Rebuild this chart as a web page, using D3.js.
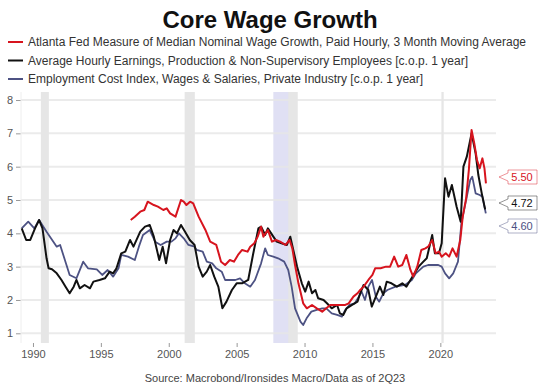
<!DOCTYPE html>
<html>
<head>
<meta charset="utf-8">
<script src="https://cdn.jsdelivr.net/npm/d3@7"></script>
<style>
  body { margin: 0; background: #fff; }
  svg text { font-family: "Liberation Sans", Arial, sans-serif; }
</style>
</head>
<body>
<svg id="chart" width="543" height="389"></svg>
<script>
// series as [decimal year, % y/y]
const atlantaFed = [[1997.2,4.4],[1997.5,4.5],[1997.9,4.65],[1998.2,4.7],[1998.45,4.95],[1998.9,4.85],[1999.2,4.8],[1999.6,4.7],[1999.85,4.75],[2000.1,4.6],[2000.5,4.5],[2000.9,5.0],[2001.1,4.95],[2001.3,4.85],[2001.57,4.95],[2001.8,4.9],[2002.2,4.5],[2002.7,4.1],[2003.05,3.75],[2003.5,3.65],[2003.85,3.15],[2004.15,3.05],[2004.5,3.2],[2004.8,3.15],[2005.1,3.35],[2005.4,3.5],[2005.8,3.45],[2006.0,3.6],[2006.3,3.7],[2006.55,3.9],[2006.8,4.2],[2006.97,3.9],[2007.3,4.1],[2007.6,3.75],[2007.9,3.8],[2008.2,3.75],[2008.6,3.65],[2008.9,3.8],[2009.1,3.55],[2009.3,3.05],[2009.55,2.5],[2009.9,1.9],[2010.17,1.75],[2010.55,1.85],[2010.9,1.75],[2011.3,1.65],[2011.6,1.75],[2011.9,1.85],[2012.2,1.85],[2012.6,1.85],[2013.0,1.85],[2013.25,1.9],[2013.6,2.1],[2013.9,2.2],[2014.1,2.3],[2014.35,2.4],[2014.7,2.6],[2015.0,2.75],[2015.2,2.95],[2015.6,2.95],[2016.0,3.0],[2016.3,3.0],[2016.6,3.3],[2016.9,3.0],[2017.2,3.05],[2017.5,3.35],[2017.8,2.9],[2018.0,2.7],[2018.3,3.0],[2018.6,3.5],[2018.9,3.55],[2019.1,3.6],[2019.4,3.8],[2019.65,3.4],[2019.9,3.45],[2020.1,3.3],[2020.4,3.4],[2020.65,3.3],[2020.9,3.55],[2021.2,3.3],[2021.47,3.8],[2021.65,4.5],[2021.9,5.05],[2022.1,5.9],[2022.3,7.1],[2022.5,6.7],[2022.7,6.2],[2022.9,5.95],[2023.1,6.25],[2023.25,5.95],[2023.36,5.5]];

const ahe = [[1989.17,4.15],[1989.5,3.8],[1989.8,3.8],[1990.15,4.15],[1990.45,4.4],[1990.7,4.15],[1991.0,3.25],[1991.15,2.95],[1991.4,2.92],[1991.75,2.8],[1992.1,2.6],[1992.4,2.4],[1992.7,2.2],[1993.0,2.4],[1993.2,2.6],[1993.45,2.35],[1993.8,2.45],[1994.2,2.35],[1994.45,2.55],[1994.9,2.6],[1995.3,2.65],[1995.65,2.85],[1995.9,2.8],[1996.15,2.95],[1996.5,3.4],[1996.8,3.45],[1997.15,3.8],[1997.4,3.6],[1997.9,4.05],[1998.25,4.2],[1998.6,4.25],[1998.9,3.9],[1999.1,3.55],[1999.3,3.2],[1999.55,3.6],[1999.8,3.1],[2000.1,3.8],[2000.35,4.1],[2000.6,4.0],[2000.9,4.25],[2001.2,4.05],[2001.55,3.8],[2001.9,3.65],[2002.2,3.0],[2002.5,2.7],[2002.8,2.85],[2003.05,3.05],[2003.35,2.7],[2003.65,2.4],[2003.95,1.75],[2004.25,1.95],[2004.65,2.3],[2005.0,2.5],[2005.4,2.5],[2005.85,2.6],[2006.2,3.35],[2006.6,4.15],[2006.8,4.2],[2007.1,3.95],[2007.3,4.15],[2007.7,3.9],[2007.95,3.75],[2008.3,3.7],[2008.7,3.65],[2008.95,3.9],[2009.2,3.45],[2009.45,3.0],[2009.8,2.5],[2010.05,2.25],[2010.3,2.55],[2010.55,2.2],[2010.8,2.3],[2011.0,2.05],[2011.4,2.0],[2011.65,1.9],[2012.0,1.75],[2012.4,1.85],[2012.6,1.6],[2012.85,1.55],[2013.1,1.75],[2013.5,1.85],[2013.9,1.95],[2014.1,2.2],[2014.35,2.45],[2014.7,2.3],[2014.95,1.8],[2015.2,2.05],[2015.55,2.4],[2015.8,2.15],[2016.05,2.55],[2016.4,2.5],[2016.8,2.4],[2017.2,2.5],[2017.5,2.4],[2017.8,2.6],[2018.1,2.8],[2018.4,3.0],[2018.75,3.15],[2019.0,3.25],[2019.4,3.95],[2019.6,3.4],[2019.9,3.4],[2020.1,3.7],[2020.35,5.65],[2020.6,5.1],[2020.85,5.45],[2021.2,4.8],[2021.5,4.35],[2021.7,6.0],[2021.95,6.3],[2022.3,7.0],[2022.6,6.4],[2022.8,5.75],[2023.05,5.2],[2023.3,4.72]];

const eci = [[1989.17,4.15],[1989.65,4.35],[1990.1,4.15],[1990.45,4.4],[1991.0,4.05],[1991.5,3.75],[1991.75,3.6],[1992.0,3.65],[1992.35,3.2],[1992.7,2.75],[1993.2,2.65],[1993.7,3.15],[1994.05,2.95],[1994.7,2.92],[1995.1,2.75],[1995.5,2.9],[1995.9,2.7],[1996.3,2.95],[1996.5,3.35],[1997.0,3.3],[1997.5,3.2],[1997.8,3.6],[1998.1,3.95],[1998.6,4.1],[1999.0,3.75],[1999.4,3.65],[1999.85,3.75],[2000.2,3.75],[2000.5,3.85],[2000.75,4.0],[2001.1,3.85],[2001.45,3.65],[2001.9,3.6],[2002.05,3.5],[2002.5,3.45],[2002.8,3.15],[2003.2,3.1],[2003.5,2.95],[2003.9,2.85],[2004.15,2.6],[2004.5,2.6],[2004.9,2.6],[2005.25,2.65],[2005.6,2.5],[2006.0,2.4],[2006.35,2.6],[2006.8,3.1],[2007.1,3.55],[2007.3,3.35],[2007.7,3.3],[2008.05,3.25],[2008.5,3.15],[2008.8,2.9],[2009.05,2.4],[2009.3,1.75],[2009.7,1.35],[2009.9,1.25],[2010.15,1.45],[2010.5,1.65],[2010.9,1.7],[2011.3,1.75],[2011.6,1.75],[2012.0,1.6],[2012.4,1.55],[2012.75,1.5],[2013.0,1.7],[2013.3,1.85],[2013.7,1.9],[2014.0,2.1],[2014.2,2.25],[2014.45,2.0],[2014.7,2.4],[2014.97,2.6],[2015.25,2.1],[2015.5,1.95],[2015.8,2.2],[2016.1,2.3],[2016.7,2.4],[2017.4,2.45],[2017.9,2.6],[2018.2,2.8],[2018.75,3.0],[2019.1,3.05],[2019.45,3.05],[2019.85,3.05],[2020.1,3.0],[2020.35,2.8],[2020.65,2.65],[2020.95,2.8],[2021.3,3.15],[2021.55,4.3],[2021.85,4.9],[2022.2,5.6],[2022.35,5.7],[2022.6,5.2],[2022.9,5.15],[2023.1,5.1],[2023.35,4.6]];

const recessions = [[1990.58,1991.17],[2001.17,2001.92],[2007.92,2009.5],[2020.08,2020.25]];
const gfcBand = [2007.7, 2008.8];

const seriesNames = [
  "Atlanta Fed Measure of Median Nominal Wage Growth, Paid Hourly, 3 Month Moving Average",
  "Average Hourly Earnings, Production & Non-Supervisory Employees [c.o.p. 1 year]",
  "Employment Cost Index, Wages & Salaries, Private Industry [c.o.p. 1 year]"
];
const seriesColors = ["#d7141e", "#111111", "#4d5283"];
const yTicks = [1, 2, 3, 4, 5, 6, 7, 8];
const xTicks = [1990, 1995, 2000, 2005, 2010, 2015, 2020];

const svg = d3.select("#chart");
const plotTop = 92, plotBottom = 343, plotLeft = 21, plotRight = 496;

const x = d3.scaleLinear().domain([1989, 2024.1]).range([19.4, 496]);
const y = d3.scaleLinear().domain([0.7, 8.25]).range([343.3, 91.7]);

// title
svg.append("text").attr("x", 270).attr("y", 28).attr("text-anchor", "middle")
  .style("font-size", "24px").style("font-weight", "bold").attr("fill", "#111")
  .text("Core Wage Growth");

// legend
const legend = svg.selectAll("g.legend").data(seriesNames).join("g")
  .attr("class", "legend")
  .attr("transform", (d, i) => `translate(0,${42 + i * 18.5})`);
legend.append("line").attr("x1", 8).attr("x2", 23).attr("y1", 0).attr("y2", 0)
  .attr("stroke", (d, i) => seriesColors[i]).attr("stroke-width", 2);
legend.append("text").attr("x", 28).attr("y", 4).style("font-size", "12px")
  .attr("fill", "#333").text(d => d);

// recession bands
svg.selectAll("rect.rec").data(recessions).join("rect")
  .attr("class", "rec")
  .attr("x", d => x(d[0])).attr("width", d => Math.max(1.5, x(d[1]) - x(d[0])))
  .attr("y", plotTop).attr("height", plotBottom - plotTop).attr("fill", "#e6e6e6");
svg.append("rect").attr("x", x(gfcBand[0])).attr("width", x(gfcBand[1]) - x(gfcBand[0]))
  .attr("y", plotTop).attr("height", plotBottom - plotTop).attr("fill", "#e0e0f4");

// grid
svg.selectAll("line.grid").data(yTicks).join("line")
  .attr("class", "grid")
  .attr("x1", plotLeft).attr("x2", plotRight).attr("y1", d => y(d)).attr("y2", d => y(d))
  .attr("stroke", "#e6e6e6").attr("stroke-width", 2).attr("stroke-opacity", 0.8);

// axes
const yAxis = svg.append("g").attr("transform", `translate(${plotLeft},0)`)
  .call(d3.axisLeft(y).tickValues(yTicks).tickSize(5).tickPadding(3));
const xAxis = svg.append("g").attr("transform", `translate(0,${plotBottom})`)
  .call(d3.axisBottom(x).tickValues(xTicks).tickFormat(d3.format("d")).tickSize(4).tickPadding(3));
[yAxis, xAxis].forEach(g => {
  g.select(".domain").remove();
  g.selectAll("line").attr("stroke", "#999");
  g.selectAll("text").attr("fill", "#555").style("font-size", "11px")
    .style("font-family", "'Liberation Sans', Arial, sans-serif");
});
yAxis.append("line").attr("x1", 0).attr("x2", 0).attr("y1", plotTop).attr("y2", plotBottom)
  .attr("stroke", "#eee");

// lines
const line = d3.line().x(d => x(d[0])).y(d => y(d[1]));
const series = [eci, ahe, atlantaFed];
const colors = [seriesColors[2], seriesColors[1], seriesColors[0]];
const widths = [1.8, 2, 2];
svg.selectAll("path.series").data(series).join("path")
  .attr("class", "series")
  .attr("d", line).attr("fill", "none")
  .attr("stroke", (d, i) => colors[i]).attr("stroke-width", (d, i) => widths[i])
  .attr("stroke-linejoin", "round");

// end labels
const lastVals = [atlantaFed, ahe, eci].map((s, i) => ({ v: s[s.length - 1][1], color: seriesColors[i] }));
lastVals.sort((a, b) => b.v - a.v);
lastVals.forEach((d, i) => {
  d.py = y(d.v);
  if (i > 0 && d.py < lastVals[i - 1].py + 23) d.py = lastVals[i - 1].py + 23;
});
const shift = d3.mean(lastVals, d => y(d.v)) - d3.mean(lastVals, d => d.py);
lastVals.forEach(d => d.py += shift);

const lbl = svg.selectAll("g.endlabel").data(lastVals).join("g")
  .attr("class", "endlabel").attr("transform", d => `translate(0,${d.py})`);
lbl.append("path")
  .attr("d", "M508,-7 H537 V7 H508 V4 L499,0 L508,-4 Z")
  .attr("fill", "#fff").attr("stroke", d => d.color).attr("stroke-opacity", 0.45);
lbl.append("text").attr("x", 522).attr("y", 4).attr("text-anchor", "middle")
  .style("font-size", "11px").attr("fill", d => d.color).text(d => d.v.toFixed(2));

// source
svg.append("text").attr("x", 275).attr("y", 382).attr("text-anchor", "middle")
  .style("font-size", "11px").attr("fill", "#444")
  .text("Source: Macrobond/Ironsides Macro/Data as of 2Q23");
</script>
</body>
</html>
